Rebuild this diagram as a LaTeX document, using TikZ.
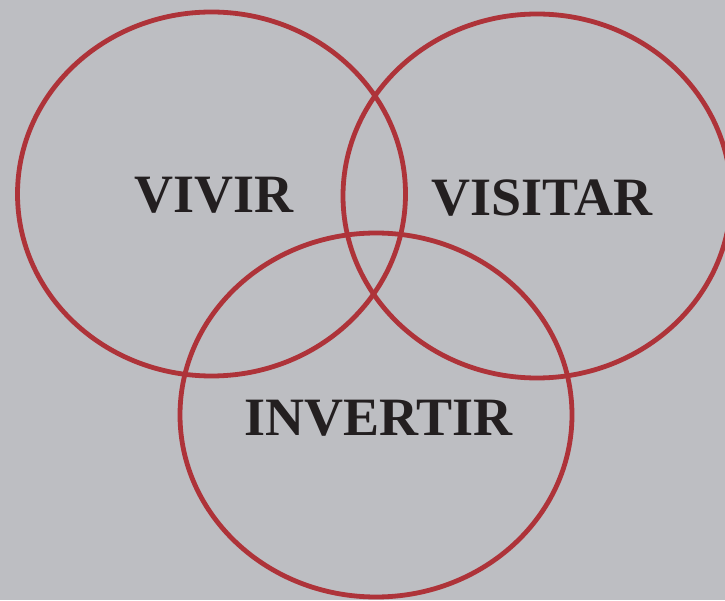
\documentclass[tikz,border=0pt]{standalone}
\usepackage{fontspec}
\setmainfont{Liberation Serif}
\definecolor{bg}{RGB}{189,190,194}
\definecolor{ring}{RGB}{174,51,57}
\definecolor{ink}{RGB}{35,31,32}
\begin{document}
\begin{tikzpicture}[x=1pt,y=1pt,
  ringline/.style={draw=ring,line width=4.8pt},
  word/.style={anchor=base,text=ink,font=\fontsize{54}{60}\selectfont\bfseries,inner sep=0pt}]
\fill[bg] (0,0) rectangle (725,600);
\useasboundingbox (0,0) rectangle (725,600);
\draw[ringline] (211.5,406) ellipse [x radius=194,y radius=182];
\draw[ringline] (537,404) ellipse [x radius=194,y radius=182];
\draw[ringline] (376,185) ellipse [x radius=196,y radius=182];
\node[word] (vivir) at (214,387) {VIVIR};
\node[word] (visitar) at (542,384) {VISITAR};
\node[word] (invertir) at (378.5,165) {INVERTIR};
\end{tikzpicture}
\end{document}
